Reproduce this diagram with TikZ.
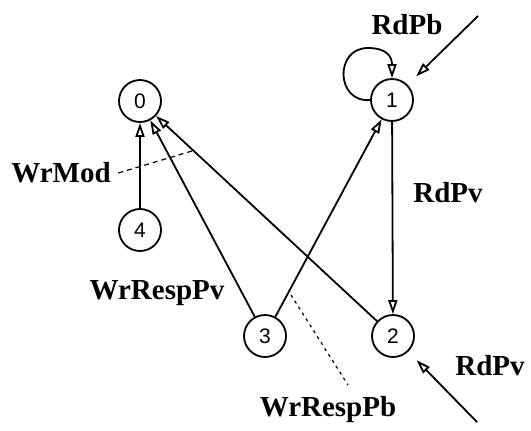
\documentclass[tikz,border=0pt]{standalone}
\usepackage{fontspec}
\setmainfont{Liberation Serif}
\newfontfamily\numfont{Liberation Sans}
\usetikzlibrary{arrows.meta}
\begin{document}
\begin{tikzpicture}[x=0.5pt,y=-0.5pt,>={Triangle[open,length=7pt,width=4.5pt]},line width=0.9pt,
  st/.style={draw,circle,minimum size=21pt,inner sep=0pt,font=\numfont\fontsize{10.5}{11}\selectfont},
  lab/.style={font=\bfseries\fontsize{14.5}{16}\selectfont}]
\useasboundingbox (0,0) rectangle (531,430);
\node[st](n0) at (140,101){0};
\node[st](n1) at (392,100){1};
\node[st](n2) at (393,336){2};
\node[st](n3) at (265,336){3};
\node[st](n4) at (140,230){4};

\draw[->](n4)--(n0);
\draw[->](n3)--(n0);
\draw[->](n2)--(n0);
\draw[->](n3)--(n1);
\draw[->](n1)--(n2);
\draw[->](n1.west) .. controls (336,103) and (334,48) .. (368,48)
  .. controls (386,48) and (392,56) .. (n1.north);

% incoming
\coordinate (inpb) at (478,16);
\coordinate (inpv) at (477,422);
\draw[->,shorten >=6pt](inpb)--(n1);
\draw[->,shorten >=6pt](inpv)--(n2);
\node[lab](rdpb) at (407,25){RdPb};
\node[lab](rdpv2) at (490,366){RdPv};
\node[lab](rdpv1) at (448,193){RdPv};

% remarks
\node[lab](wrmod) at (61,173){WrMod};
\coordinate (wm) at (192,151);
\draw[dash pattern=on 2.5pt off 2pt,line width=0.6pt](wrmod.east)--(wm);
\node[lab](wrpv) at (157,293){WrRespPv};
\node[lab](wrpb) at (328,410){WrRespPb};
\coordinate (pba) at (291,295);
\coordinate (pbb) at (348,385);
\draw[dash pattern=on 1.5pt off 2pt,line width=0.6pt](pba)--(pbb);
\end{tikzpicture}
\end{document}
